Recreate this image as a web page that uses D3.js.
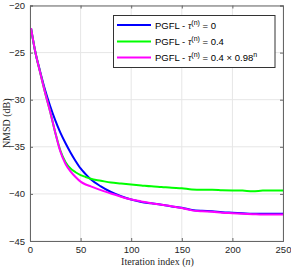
<!DOCTYPE html>
<html><head><meta charset="utf-8">
<script src="https://cdn.jsdelivr.net/npm/d3@7"></script>
<style>body{margin:0;background:#fff}svg{display:block}</style>
</head><body>
<script>
const iterations = [1,5,10,15,20,25,30,35,40,45,50,55,60,70,80,90,100,110,120,130,140,150,160,170,180,190,200,210,220,230,240,250];
const seriesNames = ["PGFL - τ(n) = 0","PGFL - τ(n) = 0.4","PGFL - τ(n) = 0.4 × 0.98n"];
const blueVals  = [-22.4,-24.8,-27.0,-29.0,-30.7,-32.2,-33.5,-34.6,-35.6,-36.5,-37.3,-37.9,-38.45,-39.2,-39.8,-40.25,-40.6,-40.85,-41.0,-41.15,-41.33,-41.47,-41.7,-41.8,-41.85,-41.95,-42.0,-42.05,-42.1,-42.1,-42.1,-42.1];
const greenVals = [-22.4,-24.8,-27.1,-29.3,-31.3,-33.5,-35.4,-36.6,-37.3,-37.7,-38.0,-38.2,-38.4,-38.6,-38.8,-38.9,-39.0,-39.1,-39.2,-39.27,-39.35,-39.4,-39.52,-39.55,-39.55,-39.6,-39.63,-39.65,-39.72,-39.65,-39.63,-39.63];
const pinkVals  = [-22.4,-24.8,-27.1,-29.3,-31.3,-33.5,-35.5,-36.8,-37.6,-38.2,-38.7,-39.0,-39.2,-39.6,-39.95,-40.3,-40.6,-40.8,-41.0,-41.15,-41.3,-41.5,-41.75,-41.85,-41.9,-42.0,-42.05,-42.1,-42.15,-42.2,-42.2,-42.2];
const xTicks = [0,50,100,150,200,250];
const yTicks = [-20,-25,-30,-35,-40,-45];

const W=291,H=268;
const m={l:30,r:8,t:5.5,b:27};
const svg=d3.select("body").append("svg").attr("width",W).attr("height",H);
const x=d3.scaleLinear().domain([0,250]).range([m.l,W-m.r]);
const y=d3.scaleLinear().domain([-45,-20]).range([H-m.b,m.t]);
const x0=x.range()[0],x1=x.range()[1],y0=y.range()[0],y1=y.range()[1];

// grid
const g=svg.append("g");
g.selectAll(".gx").data(xTicks).join("line").attr("x1",d=>x(d)).attr("x2",d=>x(d)).attr("y1",y0).attr("y2",y1).attr("stroke","#e6e6e6").attr("stroke-width",1);
g.selectAll(".gy").data(yTicks).join("line").attr("y1",d=>y(d)).attr("y2",d=>y(d)).attr("x1",x0).attr("x2",x1).attr("stroke","#e6e6e6").attr("stroke-width",1);

// lines
const colors=["#0000ff","#00ff00","#ff00ff"];
const series=[blueVals,greenVals,pinkVals];
const line=d3.line().x((d,i)=>x(iterations[i])).y(d=>y(d)).curve(d3.curveMonotoneX);
series.forEach((s,k)=>{
  svg.append("path").datum(s).attr("d",line).attr("fill","none").attr("stroke",colors[k]).attr("stroke-width",2);
});

// axes
const axCol="#666";
const xb=svg.append("g").attr("transform",`translate(0,${y0})`).call(d3.axisBottom(x).tickValues(xTicks).tickSize(-3).tickPadding(5).tickFormat(d3.format("d")));
const xt=svg.append("g").attr("transform",`translate(0,${y1})`).call(d3.axisTop(x).tickValues(xTicks).tickSize(-3).tickFormat(""));
const yl=svg.append("g").attr("transform",`translate(${x0},0)`).call(d3.axisLeft(y).tickValues(yTicks).tickSize(-3).tickPadding(5).tickFormat(d3.format("d")));
const yr=svg.append("g").attr("transform",`translate(${x1},0)`).call(d3.axisRight(y).tickValues(yTicks).tickSize(-3).tickFormat(""));
[xb,xt,yl,yr].forEach(a=>{
  a.select(".domain").attr("stroke",axCol);
  a.selectAll(".tick line").attr("stroke",axCol);
  a.selectAll("text").attr("fill","#262626").style("font-family","Liberation Sans, Arial, sans-serif").style("font-size","9.5px");
});

// axis labels
svg.append("text").attr("x",(x0+x1)/2+1).attr("y",264.5).attr("text-anchor","middle")
  .style("font-family","Liberation Serif, serif").style("font-size","10px").attr("fill","#262626")
  .html('Iteration index (<tspan font-style="italic">n</tspan>)');
svg.append("text").attr("transform",`translate(10,${(y0+y1)/2}) rotate(-90)`).attr("text-anchor","middle")
  .style("font-family","Liberation Serif, serif").style("font-size","10px").attr("fill","#262626")
  .text("NMSD (dB)");

// legend
const lg=svg.append("g");
lg.append("rect").attr("x",113.5).attr("y",15.5).attr("width",161.5).attr("height",52).attr("fill","#fff").attr("stroke","#333").attr("stroke-width",1);
const ly=[25,41.5,57.5];
const labels=[["0",null],["0.4",null],["0.4 × 0.98","n"]];
labels.forEach((lb,i)=>{
  lg.append("line").attr("x1",117).attr("x2",151).attr("y1",ly[i]).attr("y2",ly[i]).attr("stroke",colors[i]).attr("stroke-width",2);
  const t=lg.append("text").attr("x",155).attr("y",ly[i]+3.5).style("font-family","Liberation Sans, Arial, sans-serif").style("font-size","9.5px").attr("fill","#000");
  t.append("tspan").text("PGFL - ");
  t.append("tspan").text("τ").style("font-family","Liberation Serif, serif").style("font-style","italic");
  t.append("tspan").text("(n)").attr("dy",-4).style("font-size","7px");
  t.append("tspan").text(" = "+lb[0]).attr("dy",4);
  if(lb[1]) t.append("tspan").text(lb[1]).attr("dy",-4).style("font-size","7px");
});
</script>
</body></html>
